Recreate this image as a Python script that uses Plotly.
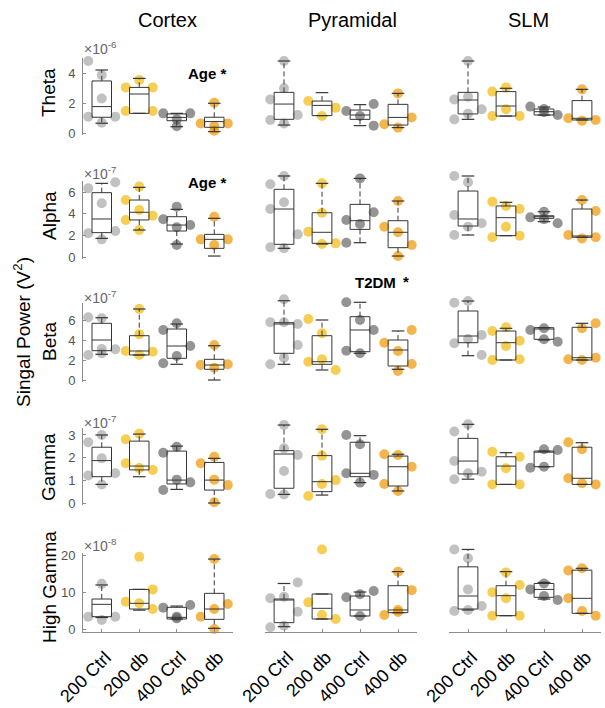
import plotly.graph_objects as go

# ---------------- data ----------------
GROUPS = ["200 Ctrl", "200 db", "400 Ctrl", "400 db"]
REGIONS = ["Cortex", "Pyramidal", "SLM"]
BANDS = ["Theta", "Alpha", "Beta", "Gamma", "High Gamma"]
EXPONENTS = ["-6", "-7", "-7", "-7", "-8"]
ROW_TICKS = [[0, 2, 4], [0, 2, 4, 6], [0, 2, 4, 6], [0, 1, 2, 3], [0, 10, 20]]

# points: (jitter side, value) per group; boxes: (lower whisker, q1, median, q3, upper whisker)
THETA_CORTEX_PTS = [[(-1, 4.8), (0, 3.87), (0, 2.3), (-1, 1.09), (1, 1.09), (0, 0.69)],
                    [(0, 3.53), (-1, 3.04), (1, 3.04), (-1, 1.47), (1, 1.47)],
                    [(-1, 1.31), (1, 1.31), (0, 0.91), (0, 0.45)],
                    [(0, 2.02), (-1, 0.64), (1, 0.64), (0, 0.47), (0, 0.15)]]
THETA_CORTEX_BOX = [(0.65, 1.05, 1.76, 3.47, 4.2), (1.31, 1.31, 2.6, 3.04, 3.64),
                    (0.42, 0.82, 1.04, 1.27, 1.31), (0.09, 0.38, 0.76, 1.05, 1.98)]
THETA_PYR_PTS = [[(0, 4.8), (0, 2.98), (-1, 2.24), (-1, 0.87), (1, 1.2), (0, 0.64)],
                 [(-1, 2.13), (1, 1.69), (0, 1.13)],
                 [(-1, 1.47), (1, 1.93), (0, 1.13), (1, 0.49)],
                 [(0, 2.64), (-1, 0.58), (1, 1.04), (0, 0.36)]]
THETA_PYR_BOX = [(0.53, 0.91, 1.93, 2.71, 4.8), (1.16, 1.16, 1.84, 2.13, 2.69),
                 (0.49, 0.91, 1.2, 1.53, 1.89), (0.36, 0.53, 1.04, 1.91, 2.64)]
THETA_SLM_PTS = [[(0, 4.8), (-1, 2.24), (0, 2.42), (1, 1.58), (-1, 0.91), (0, 1.29)],
                 [(-1, 2.76), (0, 3.04), (0, 1.58), (-1, 1.13), (1, 1.13)],
                 [(-1, 1.76), (0, 1.6), (1, 1.2), (0, 1.38)],
                 [(0, 2.91), (-1, 0.98), (0, 0.82), (1, 0.87)]]
THETA_SLM_BOX = [(0.91, 1.27, 2.2, 2.71, 4.8), (1.13, 1.13, 1.8, 2.76, 2.98),
                 (1.2, 1.2, 1.42, 1.6, 1.73), (0.87, 0.87, 0.98, 2.16, 2.91)]

ALPHA_CORTEX_PTS = [[(-1, 6.34), (1, 6.9), (0, 4.96), (-1, 2.19), (1, 2.4), (0, 1.63)],
                    [(0, 6.5), (-1, 5.26), (0, 4.34), (-1, 3.42), (1, 3.81), (0, 2.49)],
                    [(0, 4.65), (-1, 3.48), (1, 2.95), (0, 2.74), (0, 1.11)],
                    [(0, 3.72), (-1, 1.63), (1, 1.63), (0, 1.11)]]
ALPHA_CORTEX_BOX = [(1.72, 2.25, 3.51, 5.94, 6.8), (2.49, 3.42, 4.13, 5.26, 6.43),
                    (1.2, 2.4, 2.95, 3.72, 4.4), (0.09, 0.8, 1.63, 2.09, 3.57)]
ALPHA_PYR_PTS = [[(-1, 6.71), (0, 7.48), (0, 5.05), (-1, 4.43), (1, 2.09), (-1, 0.9), (0, 0.8)],
                 [(0, 6.8), (0, 4.09), (-1, 2.34), (0, 1.2), (1, 1.26)],
                 [(0, 7.26), (1, 4.13), (-1, 3.42), (0, 3.05), (-1, 1.32)],
                 [(0, 5.17), (-1, 2.8), (0, 2.28), (1, 1.11), (0, 0.09)]]
ALPHA_PYR_BOX = [(0.8, 1.17, 4.43, 6.25, 7.48), (1.2, 1.26, 2.28, 4.09, 6.8),
                 (1.32, 2.55, 3.35, 4.86, 7.26), (0.09, 0.86, 2.28, 3.35, 5.17)]
ALPHA_SLM_PTS = [[(-1, 7.48), (0, 6.9), (-1, 3.88), (0, 2.8), (1, 3.11), (-1, 2.03)],
                 [(-1, 5.11), (0, 4.71), (1, 4.43), (0, 2.8), (-1, 1.82), (1, 1.97)],
                 [(-1, 3.66), (0, 4.18), (0, 3.5), (1, 3.11)],
                 [(0, 5.26), (1, 4.25), (-1, 2.03), (0, 1.72), (1, 1.82)]]
ALPHA_SLM_BOX = [(2.03, 2.86, 3.51, 6.09, 7.48), (1.97, 1.97, 3.63, 4.71, 5.05),
                 (3.26, 3.57, 3.72, 3.81, 4.18), (1.82, 1.82, 1.94, 4.43, 5.26)]

BETA_CORTEX_PTS = [[(-1, 6.27), (0, 6.17), (-1, 2.5), (0, 3.1), (1, 3.07), (0, 2.67)],
                   [(0, 7.1), (0, 4.57), (-1, 2.9), (1, 2.83), (0, 2.5)],
                   [(0, 5.67), (-1, 5.0), (1, 3.4), (0, 2.4), (-1, 1.67)],
                   [(0, 3.5), (-1, 1.5), (1, 1.57), (0, 1.23)]]
BETA_CORTEX_BOX = [(2.57, 2.93, 4.0, 5.67, 6.23), (2.5, 2.5, 2.9, 4.43, 7.1),
                   (1.57, 2.17, 3.4, 5.1, 5.6), (0.0, 1.07, 1.5, 2.07, 3.43)]
BETA_PYR_PTS = [[(0, 8.07), (-1, 5.77), (0, 5.77), (1, 5.6), (1, 3.5), (0, 2.23), (-1, 1.57)],
                [(-1, 6.1), (0, 4.67), (0, 2.07), (-1, 1.83), (1, 1.0)],
                [(-1, 7.77), (0, 6.0), (1, 5.0), (-1, 2.93), (0, 2.67)],
                [(1, 5.0), (-1, 3.73), (0, 2.9), (1, 1.6), (0, 0.9)]]
BETA_PYR_BOX = [(1.57, 2.67, 5.6, 5.73, 7.93), (1.0, 1.57, 1.83, 4.43, 6.0),
                (2.67, 2.83, 5.0, 6.33, 7.77), (1.07, 1.4, 3.0, 4.0, 4.9)]
BETA_SLM_PTS = [[(-1, 7.73), (0, 7.9), (0, 4.1), (-1, 3.67), (1, 4.5), (1, 2.5)],
                [(-1, 4.9), (0, 5.27), (1, 3.93), (0, 3.4), (-1, 2.0), (1, 2.07)],
                [(-1, 5.0), (0, 4.07), (1, 3.83), (0, 5.17)],
                [(1, 5.67), (0, 5.17), (-1, 2.07), (0, 2.0), (1, 2.23)]]
BETA_SLM_BOX = [(2.43, 3.73, 4.4, 6.9, 7.9), (2.0, 2.0, 3.73, 4.9, 5.17),
                (4.0, 4.07, 5.1, 5.23, 5.23), (2.0, 2.0, 2.23, 5.27, 5.67)]

GAMMA_CORTEX_PTS = [[(-1, 2.68), (0, 3.0), (0, 1.97), (-1, 1.21), (1, 1.31), (0, 0.82)],
                    [(-1, 2.81), (0, 3.06), (-1, 1.75), (0, 1.54), (1, 1.46)],
                    [(-1, 2.22), (0, 2.48), (0, 1.03), (1, 0.91), (-1, 0.57)],
                    [(-1, 1.75), (0, 2.04), (0, 1.03), (1, 0.79), (0, 0.03)]]
GAMMA_CORTEX_BOX = [(0.82, 1.16, 1.87, 2.46, 3.0), (1.16, 1.46, 1.63, 2.73, 3.04),
                    (0.6, 0.84, 1.01, 2.29, 2.51), (0.0, 0.57, 1.01, 1.79, 1.97)]
GAMMA_PYR_PTS = [[(0, 3.44), (0, 2.41), (1, 2.12), (0, 1.41), (-1, 0.4), (0, 0.38)],
                 [(0, 3.25), (0, 2.09), (1, 1.01), (0, 0.84), (-1, 0.31)],
                 [(-1, 3.0), (0, 2.59), (-1, 1.31), (1, 1.24), (0, 0.9)],
                 [(-1, 2.15), (0, 2.12), (1, 1.6), (-1, 0.84), (0, 0.53)]]
GAMMA_PYR_BOX = [(0.38, 0.65, 2.16, 2.31, 3.44), (0.35, 0.5, 0.94, 2.09, 3.25),
                 (0.9, 1.16, 1.31, 2.68, 2.97), (0.53, 0.75, 1.6, 2.07, 2.15)]
GAMMA_SLM_PTS = [[(0, 3.47), (-1, 3.15), (-1, 1.85), (0, 1.31), (1, 1.38), (-1, 1.05)],
                 [(-1, 2.26), (1, 2.04), (0, 1.53), (-1, 0.82), (1, 0.82)],
                 [(-1, 1.56), (0, 2.37), (1, 2.34), (0, 1.6)],
                 [(-1, 2.68), (0, 2.37), (-1, 1.09), (0, 0.87), (1, 0.82)]]
GAMMA_SLM_BOX = [(1.05, 1.28, 1.85, 2.85, 3.47), (0.82, 0.82, 1.63, 2.04, 2.22),
                 (1.6, 1.6, 2.24, 2.29, 2.29), (0.82, 0.82, 1.09, 2.46, 2.66)]

HIGH_CORTEX_PTS = [[(0, 12.2), (-1, 3.33), (1, 3.33), (0, 2.43)],
                   [(0, 19.5), (1, 10.7), (-1, 7.39), (0, 6.94), (1, 5.4)],
                   [(-1, 5.77), (1, 6.49), (0, 3.33), (0, 2.88)],
                   [(0, 18.9), (1, 6.76), (0, 5.4), (-1, 3.33), (0, 0.0)]]
HIGH_CORTEX_BOX = [(3.1, 3.33, 6.67, 8.1, 11.9), (5.1, 5.4, 6.94, 10.7, 10.7),
                   (2.7, 2.7, 3.15, 5.86, 6.2), (0.18, 2.61, 5.4, 9.64, 18.9)]
HIGH_PYR_PTS = [[(1, 12.6), (-1, 8.29), (0, 8.74), (1, 4.68), (-1, 0.45), (0, 0.9)],
                [(0, 21.5), (-1, 7.2), (0, 3.78), (1, 2.7)],
                [(-1, 8.56), (1, 10.27), (0, 3.51), (0, 9.4)],
                [(0, 15.5), (1, 10.5), (-1, 3.78), (0, 5.14), (0, 4.6)]]
HIGH_PYR_BOX = [(0.63, 1.71, 7.84, 8.1, 12.3), (2.7, 2.7, 5.59, 9.46, 9.46),
                (3.51, 3.51, 5.14, 8.92, 10.0), (4.41, 4.41, 5.14, 11.7, 15.5)]
HIGH_SLM_PTS = [[(-1, 21.5), (0, 19.1), (0, 10.7), (-1, 4.86), (1, 6.2), (0, 5.14)],
                [(0, 15.3), (1, 11.9), (-1, 9.91), (0, 8.29), (-1, 3.6), (1, 3.6)],
                [(-1, 10.7), (0, 8.92), (1, 7.84), (0, 12.3)],
                [(-1, 15.8), (0, 16.4), (-1, 8.29), (0, 4.86), (1, 3.6)]]
HIGH_SLM_BOX = [(5.14, 5.4, 8.92, 16.8, 21.5), (3.6, 3.6, 9.0, 11.7, 15.5),
                (8.1, 8.56, 10.7, 12.3, 12.6), (4.23, 4.23, 8.29, 15.9, 16.4)]

POINTS = [[THETA_CORTEX_PTS, THETA_PYR_PTS, THETA_SLM_PTS],
          [ALPHA_CORTEX_PTS, ALPHA_PYR_PTS, ALPHA_SLM_PTS],
          [BETA_CORTEX_PTS, BETA_PYR_PTS, BETA_SLM_PTS],
          [GAMMA_CORTEX_PTS, GAMMA_PYR_PTS, GAMMA_SLM_PTS],
          [HIGH_CORTEX_PTS, HIGH_PYR_PTS, HIGH_SLM_PTS]]
BOXES = [[THETA_CORTEX_BOX, THETA_PYR_BOX, THETA_SLM_BOX],
         [ALPHA_CORTEX_BOX, ALPHA_PYR_BOX, ALPHA_SLM_BOX],
         [BETA_CORTEX_BOX, BETA_PYR_BOX, BETA_SLM_BOX],
         [GAMMA_CORTEX_BOX, GAMMA_PYR_BOX, GAMMA_SLM_BOX],
         [HIGH_CORTEX_BOX, HIGH_PYR_BOX, HIGH_SLM_BOX]]

# ---------------- styling / layout ----------------
W, H = 605, 708
FONT = "Liberation Sans, Arial, Helvetica, sans-serif"
GROUP_COLORS = ["rgba(160,160,160,0.65)", "rgba(242,185,10,0.70)",
                "rgba(90,90,90,0.65)", "rgba(240,150,0,0.70)"]
BOX_COLOR = "#363636"
COL_PX = [(83, 233), (265, 417), (449, 601)]
# (pixel of value 0, pixels per unit, range low, range high col1, range high other cols)
ROW_GEOM = [(133, 15.0, -0.15, 5.0, 5.2),
            (257, 10.83, -0.2, 7.0, 7.8),
            (380, 10.0, -0.2, 7.7, 8.4),
            (503, 22.67, -0.1, 3.31, 3.6),
            (629, 3.7, -0.8, 20.6, 22.4)]
JIT = 0.36


def px_x(p):
    return p / W


def px_y(p):
    return 1 - p / H


fig = go.Figure()
layout = dict(template="none", width=W, height=H, margin=dict(l=0, r=0, t=0, b=0, pad=0),
              paper_bgcolor="white", plot_bgcolor="rgba(0,0,0,0)",
              showlegend=False, font=dict(family=FONT, color="black"))

n_panels = len(BANDS) * len(REGIONS)
for r, band in enumerate(BANDS):
    zero, ppu, lo, hi1, hi2 = ROW_GEOM[r]
    for c, region in enumerate(REGIONS):
        n = r * 3 + c + 1
        m = n + n_panels
        hi = hi1 if c == 0 else hi2
        bot_px = zero - lo * ppu
        top_px = zero - hi * ppu
        ydom = [px_y(bot_px), px_y(top_px)]
        xdom = [px_x(COL_PX[c][0]), px_x(COL_PX[c][1])]
        last = (r == len(BANDS) - 1)
        layout[f"xaxis{n}"] = dict(
            domain=xdom, range=[0.5, 4.5], anchor=f"y{n}", showgrid=False, zeroline=False,
            automargin=False, tickvals=[1, 2, 3, 4], ticktext=GROUPS, tickangle=-45,
            showticklabels=last, showline=last, linecolor="#8c8c8c", linewidth=1,
            ticks="inside" if last else "", ticklen=3, tickcolor="#8c8c8c",
            ticklabelstandoff=7, ticklabelshift=4,
            tickfont=dict(size=18, color="black", family=FONT), fixedrange=True)
        ycommon = dict(domain=ydom, range=[lo, hi], anchor=f"x{n}", showgrid=False,
                       zeroline=False, automargin=False, fixedrange=True)
        if c == 0:
            layout[f"yaxis{n}"] = dict(
                **ycommon, showline=True, linecolor="#8c8c8c", linewidth=1,
                ticks="inside", ticklen=3, tickcolor="#8c8c8c", tickvals=ROW_TICKS[r],
                tickfont=dict(size=13, color="#555555", family=FONT), ticklabelstandoff=4)
        else:
            layout[f"yaxis{n}"] = dict(**ycommon, visible=False, showline=False,
                                       showticklabels=False, ticks="")
        layout[f"yaxis{m}"] = dict(domain=ydom, range=[lo, hi], anchor=f"x{n}",
                                   overlaying=f"y{n}", visible=False, showgrid=False,
                                   zeroline=False, showline=False, showticklabels=False,
                                   ticks="", automargin=False, fixedrange=True)

        for g in range(4):
            pts = POINTS[r][c][g]
            fig.add_trace(go.Scatter(
                x=[g + 1 + s * JIT for s, _ in pts], y=[v for _, v in pts],
                mode="markers", cliponaxis=False, hoverinfo="skip",
                marker=dict(size=10, color=GROUP_COLORS[g], line=dict(width=0)),
                xaxis=f"x{n}", yaxis=f"y{n}"))
        bx = BOXES[r][c]
        xs = [1, 2, 3, 4]
        # box body + median (whiskers drawn separately, dashed like the original)
        fig.add_trace(go.Box(
            x=xs, lowerfence=[b[1] for b in bx], q1=[b[1] for b in bx],
            median=[b[2] for b in bx], q3=[b[3] for b in bx],
            upperfence=[b[3] for b in bx],
            width=0.52, whiskerwidth=0, boxpoints=False,
            fillcolor="rgba(0,0,0,0)", line=dict(color=BOX_COLOR, width=1),
            hoverinfo="skip", xaxis=f"x{n}", yaxis=f"y{m}"))
        wx, wy = [], []
        for x, b in zip(xs, bx):
            wx += [x, x, None, x, x, None]
            wy += [b[3], b[4], None, b[1], b[0], None]
        fig.add_trace(go.Scatter(
            x=wx, y=wy, mode="lines", hoverinfo="skip", cliponaxis=False,
            line=dict(color=BOX_COLOR, width=1, dash="5px,3px"),
            xaxis=f"x{n}", yaxis=f"y{m}"))
        fig.add_trace(go.Scatter(
            x=xs + xs, y=[b[4] for b in bx] + [b[0] for b in bx],
            mode="markers", hoverinfo="skip", cliponaxis=False,
            marker=dict(symbol="line-ew", size=9, color=BOX_COLOR,
                        line=dict(color=BOX_COLOR, width=1.2)),
            xaxis=f"x{n}", yaxis=f"y{m}"))

ann = []
for x, t in zip([167, 352, 528], REGIONS):
    ann.append(dict(text=t, x=px_x(x), y=px_y(20), xref="paper", yref="paper",
                    xanchor="center", yanchor="middle", showarrow=False,
                    font=dict(size=20, color="black", family=FONT)))
for y, t in zip([93, 216, 341, 467, 587], BANDS):
    ann.append(dict(text=t, x=px_x(49), y=px_y(y), xref="paper", yref="paper",
                    xanchor="center", yanchor="middle", textangle=-90, showarrow=False,
                    font=dict(size=19, color="black", family=FONT)))
for y, e in zip([48, 173, 297, 422, 545], EXPONENTS):
    ann.append(dict(text=f"×10<sup>{e}</sup>", x=px_x(82), y=px_y(y), xref="paper",
                    yref="paper", xanchor="left", yanchor="middle", showarrow=False,
                    font=dict(size=14, color="#666666", family=FONT)))
ann.append(dict(text="Singal Power (V<sup>2</sup>)", x=px_x(22), y=px_y(332), xref="paper",
                yref="paper", xanchor="center", yanchor="middle", textangle=-90,
                showarrow=False, font=dict(size=19, color="black", family=FONT)))
for y in [73, 182]:
    ann.append(dict(text="<b>Age *</b>", x=px_x(207), y=px_y(y), xref="paper", yref="paper",
                    xanchor="center", yanchor="middle", showarrow=False,
                    font=dict(size=15, color="black", family=FONT)))
ann.append(dict(text="<b>T2DM</b>", x=px_x(375), y=px_y(282), xref="paper", yref="paper",
                xanchor="center", yanchor="middle", showarrow=False,
                font=dict(size=15, color="black", family=FONT)))
ann.append(dict(text="<b>*</b>", x=px_x(406), y=px_y(281), xref="paper", yref="paper",
                xanchor="center", yanchor="middle", showarrow=False,
                font=dict(size=15, color="black", family=FONT)))
layout["annotations"] = ann

fig.update_layout(**layout)
fig.write_html("out.html")
